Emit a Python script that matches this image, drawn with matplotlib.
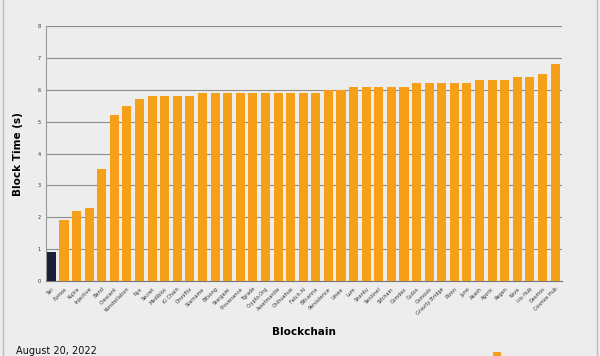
import matplotlib
matplotlib.use("Agg")
import matplotlib.pyplot as plt
from matplotlib.patches import Rectangle

chains = ["Sei", "Evmos", "Kujira", "Injective", "Band", "Crescent", "Konstellation",
          "Nyx", "Secret", "Medibloc", "Ki Chain", "Omniflix", "Starname", "Bitsong",
          "Stargaze", "Provenance", "Tgrade", "Crypto.Org", "Assetmantle", "Chihuahua",
          "Fetch AI", "Bitcanna", "Persistence", "Umee", "Lum", "Shentu", "Sentinel",
          "Sifchain", "Comdex", "Cudos", "Osmosis", "Gravity Bridge", "Rizon", "Juno",
          "Akash", "Agoric", "Regen", "Kava", "Iris Hub", "Desmos", "Cosmos Hub"]
block_time = [0.9, 1.9, 2.2, 2.3, 3.5, 5.2, 5.5,
              5.7, 5.8, 5.8, 5.8, 5.8, 5.9, 5.9,
              5.9, 5.9, 5.9, 5.9, 5.9, 5.9,
              5.9, 5.9, 6.0, 6.0, 6.1, 6.1, 6.1,
              6.1, 6.1, 6.2, 6.2, 6.2, 6.2, 6.2,
              6.3, 6.3, 6.3, 6.4, 6.4, 6.5, 6.8]
y_ticks = [0, 1, 2, 3, 4, 5, 6, 7, 8]

bg = "#EDEDED"
orange = "#F6A01A"
navy = "#1C1F3A"

fig = plt.figure(figsize=(6, 3.56), dpi=100, facecolor=bg)
ax = fig.add_axes([46/600, 1 - 281/356, (562-46)/600, (281-26)/356])
ax.set_facecolor(bg)

colors = [navy] + [orange] * (len(chains) - 1)
x = list(range(len(chains)))
ax.bar(x, block_time, width=0.72, color=colors, zorder=3)

ax.set_xlim(-0.43, len(chains) - 0.45)
ax.set_ylim(0, 8)
ax.set_yticks(y_ticks)
ax.set_yticklabels([str(t) for t in y_ticks], fontsize=3.5, color="#333333")
ax.set_xticks(x)
ax.set_xticklabels(chains, rotation=45, ha="right", rotation_mode="anchor",
                   fontsize=3.6, color="#333333")
ax.tick_params(axis="both", length=0, pad=4)
ax.grid(axis="y", color="#8E8E8E", linewidth=0.8, zorder=0)
for s in ["top", "right"]:
    ax.spines[s].set_visible(False)
ax.spines["left"].set_color("#9A9A9A")
ax.spines["left"].set_linewidth(0.8)
ax.spines["bottom"].set_color("#777777")
ax.spines["bottom"].set_linewidth(0.8)

fig.text(18/600, 1 - 154/356, "Block Time (s)", fontsize=7.5, fontweight="bold",
         rotation=90, ha="center", va="center")
fig.text(304/600, 1 - 332/356, "Blockchain", fontsize=7.5, fontweight="bold",
         ha="center", va="center")
fig.text(16/600, 1 - 346/356, "August 20, 2022", fontsize=7, ha="left", va="top",
         color="#111111")

# logo fragment bottom right
fig.patches.append(Rectangle((493/600, 0), 8/600, 4/356, transform=fig.transFigure,
                             facecolor=orange, edgecolor="none"))
# figure border
fig.patches.append(Rectangle((3/600, -0.01), 594/600, 1.02, transform=fig.transFigure,
                             facecolor="none", edgecolor="#BBBBBB", linewidth=1.0))

fig.savefig("out.png", dpi=100, facecolor=bg)
